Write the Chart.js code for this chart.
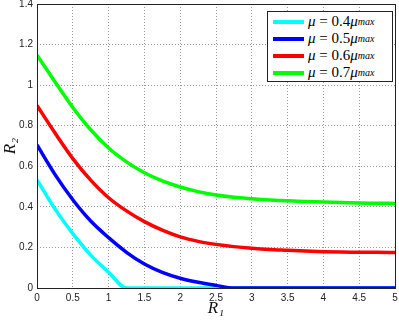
<!DOCTYPE html>
<html>
<head>
<meta charset="utf-8">
<script src="https://cdn.jsdelivr.net/npm/chart.js@4.4.1/dist/chart.umd.min.js"></script>
<style>
  body { margin: 0; background: #fff; }
  #wrap { position: relative; width: 399px; height: 320px; }
  #legend {
    position: absolute; left: 267px; top: 11px; width: 126px; height: 71px;
    box-sizing: border-box; border: 1px solid #222; background: #fff;
    font-family: "Liberation Serif", "DejaVu Serif", serif; font-size: 15px;
    padding-top: 1px;
  }
  #legend .row { height: 17px; display: flex; align-items: center; white-space: nowrap; }
  #legend .swatch { width: 31px; height: 4px; margin: 0 4px 0 5px; }
  #legend i { font-style: italic; }
  #legend sub { font-size: 10px; font-style: italic; vertical-align: -3px; }
</style>
</head>
<body>
<div id="wrap">
  <canvas id="chart" width="399" height="320"></canvas>
  <div id="legend"></div>
</div>
<script>
// data
let xValues = [0, 0.25, 0.5, 0.75, 1, 1.25, 1.5, 1.75, 2, 2.25, 2.5, 2.75, 3, 3.25, 3.5, 3.75, 4, 4.25, 4.5, 4.75, 5];
let cyanValues  = [0.533, 0.39, 0.268, 0.162, 0.078, 0, 0, 0, 0, 0, 0, 0, 0, 0, 0, 0, 0, 0, 0, 0, 0];
let blueValues  = [0.705, 0.56, 0.435, 0.33, 0.248, 0.176, 0.118, 0.077, 0.048, 0.028, 0.013, 0, 0, 0, 0, 0, 0, 0, 0, 0, 0];
let redValues   = [0.90, 0.765, 0.638, 0.532, 0.445, 0.38, 0.327, 0.285, 0.252, 0.23, 0.215, 0.204, 0.196, 0.19, 0.186, 0.182, 0.179, 0.177, 0.176, 0.176, 0.175];
let greenValues = [1.148, 1.017, 0.89, 0.78, 0.69, 0.622, 0.568, 0.528, 0.498, 0.475, 0.458, 0.447, 0.44, 0.434, 0.43, 0.426, 0.424, 0.421, 0.419, 0.418, 0.417];
let seriesMu = ['0.4', '0.5', '0.6', '0.7'];
let seriesColors = ['#00ffff', '#0000ff', '#ff0000', '#00ff00'];
let xTicks = [0, 0.5, 1, 1.5, 2, 2.5, 3, 3.5, 4, 4.5, 5];
let yTicks = [0, 0.2, 0.4, 0.6, 0.8, 1, 1.2, 1.4];

let allValues = [cyanValues, blueValues, redValues, greenValues];

function pts(vals) {
  return vals.map(function (v, i) { return { x: xValues[i], y: v }; });
}

let datasets = allValues.map(function (vals, i) {
  return {
    label: 'μ = ' + seriesMu[i] + 'μmax',
    data: pts(vals),
    borderColor: seriesColors[i],
    backgroundColor: seriesColors[i],
    borderWidth: 3.5,
    pointRadius: 0,
    cubicInterpolationMode: 'monotone',
    order: allValues.length - i
  };
});

// box around the plot area, like matlab
let frame = {
  id: 'frame',
  afterDraw: function (c) {
    let a = c.chartArea, g = c.ctx;
    g.save();
    g.strokeStyle = '#222';
    g.lineWidth = 1;
    g.strokeRect(Math.round(a.left) + 0.5, Math.round(a.top) + 0.5, Math.round(a.right - a.left), Math.round(a.bottom - a.top));
    g.restore();
  }
};

let grid = {
  color: 'rgba(0,0,0,0.4)',
  drawTicks: false
};
let tickFont = { family: 'Liberation Sans', size: 10 };
function plain(v) { return String(v); }

var ctx = document.getElementById('chart').getContext('2d');
var chart = new Chart(ctx, {
  type: 'line',
  data: { datasets: datasets },
  plugins: [frame],
  options: {
    responsive: false,
    animation: false,
    layout: { padding: { top: 4, right: 4, left: 0, bottom: 0 } },
    plugins: { legend: { display: false }, tooltip: { enabled: false } },
    scales: {
      x: {
        type: 'linear', min: 0, max: 5,
        afterBuildTicks: function (s) { s.ticks = xTicks.map(function (v) { return { value: v }; }); },
        afterFit: function (s) { s.height = 32; s.paddingLeft = 0; s.paddingRight = 0; },
        grid: grid,
        border: { display: false, dash: [1, 2] },
        ticks: { color: '#222', padding: 4, font: tickFont, callback: plain },
        title: {
          display: true, text: 'R₁', color: '#111', padding: { top: 0, bottom: 1 },
          font: { family: 'Liberation Serif', size: 17, style: 'italic' }
        }
      },
      y: {
        min: 0, max: 1.4,
        afterBuildTicks: function (s) { s.ticks = yTicks.map(function (v) { return { value: v }; }); },
        afterFit: function (s) { s.width = 37; s.paddingTop = 0; s.paddingBottom = 0; },
        grid: grid,
        border: { display: false, dash: [1, 2] },
        ticks: { color: '#222', padding: 4, font: tickFont, callback: plain },
        title: {
          display: true, text: 'R₂', color: '#111', padding: { top: 0, bottom: 0 },
          font: { family: 'Liberation Serif', size: 17, style: 'italic' }
        }
      }
    }
  }
});

// legend with subscripts as real html text
let legend = document.getElementById('legend');
seriesMu.forEach(function (mu, i) {
  let row = document.createElement('div');
  row.className = 'row';
  row.innerHTML = '<span class="swatch" style="background:' + seriesColors[i] + '"></span>' +
    '<i>μ</i>&nbsp;=&nbsp;' + mu + '<i>μ</i><sub>max</sub>';
  legend.appendChild(row);
});
</script>
</body>
</html>
